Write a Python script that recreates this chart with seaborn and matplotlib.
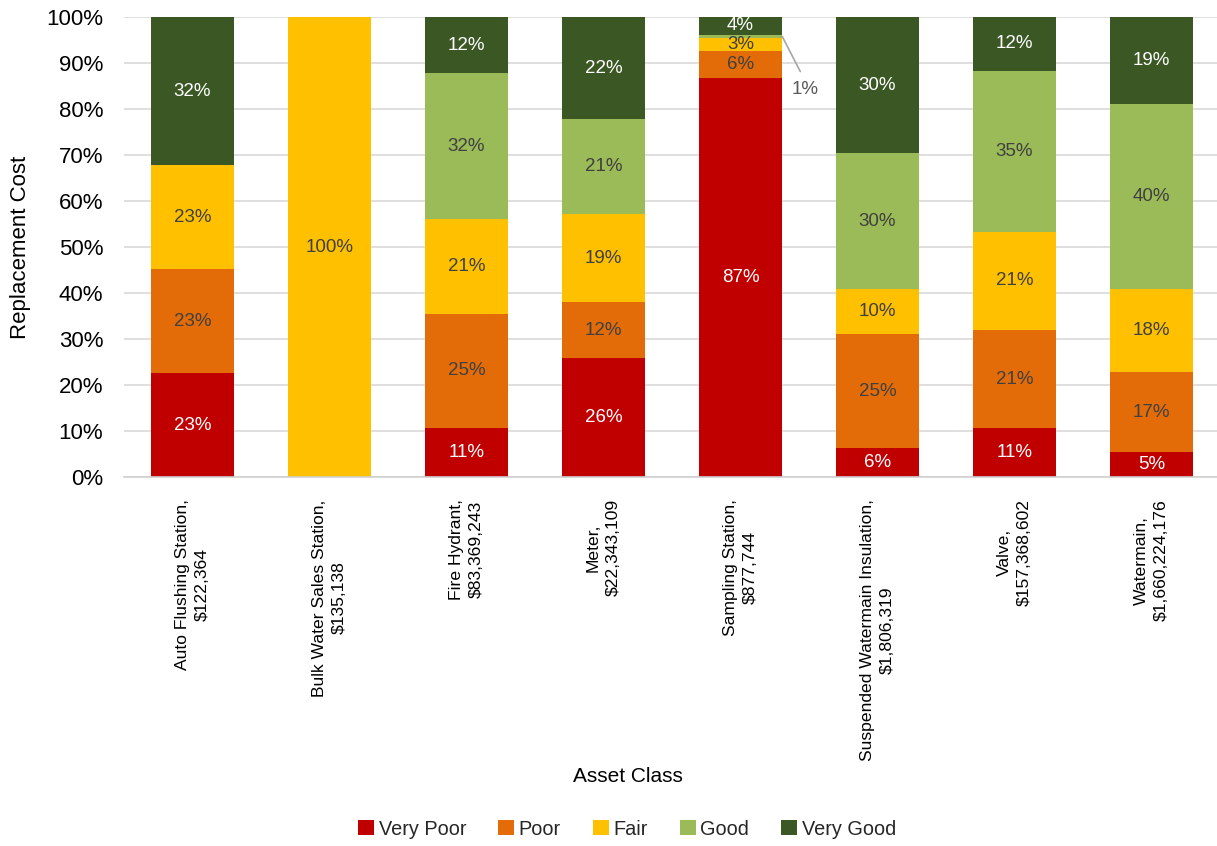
import matplotlib
matplotlib.use("Agg")
import matplotlib.pyplot as plt
from matplotlib.patches import Patch
from matplotlib.ticker import PercentFormatter
import numpy as np
import pandas as pd
import seaborn as sns

# Asset classes and their total replacement cost
assets = ["Auto Flushing Station", "Bulk Water Sales Station", "Fire Hydrant", "Meter",
          "Sampling Station", "Suspended Watermain Insulation", "Valve", "Watermain"]
replacement_cost = ["$122,364", "$135,138", "$83,369,243", "$22,343,109",
                    "$877,744", "$1,806,319", "$157,368,602", "$1,660,224,176"]
conditions = ["Very Poor", "Poor", "Fair", "Good", "Very Good"]

# Share of replacement cost (%) by condition rating
very_poor = [22.6, 0.0, 10.7, 25.9, 86.7, 6.3, 10.6, 5.4]
poor = [22.6, 0.0, 24.7, 12.1, 5.9, 24.7, 21.4, 17.4]
fair = [22.6, 100.0, 20.7, 19.2, 2.8, 9.8, 21.3, 18.1]
good = [0.0, 0.0, 31.7, 20.6, 0.7, 29.6, 35.0, 40.2]
very_good = [32.2, 0.0, 12.2, 22.2, 3.9, 29.6, 11.7, 18.9]

palette = {"Very Poor": "#C00000", "Poor": "#E36C09", "Fair": "#FFC000",
           "Good": "#9BBB59", "Very Good": "#3A5724"}
label_colors = {"Very Poor": "white", "Poor": "#404040", "Fair": "#404040",
                "Good": "#404040", "Very Good": "white"}

tick_labels = [f"{a},\n{c}" for a, c in zip(assets, replacement_cost)]

shares = np.array([very_poor, poor, fair, good, very_good])
tops = shares.cumsum(axis=0)
rows = []
for ci, cond in enumerate(conditions):
    for ai, lab in enumerate(tick_labels):
        rows.append({"asset": lab, "condition": cond, "share": shares[ci, ai],
                     "top": tops[ci, ai], "bottom": tops[ci, ai] - shares[ci, ai]})
df = pd.DataFrame(rows)

sns.set_theme(style="white")
plt.rcParams["font.family"] = ["Liberation Sans", "DejaVu Sans"]

W, H = 1217, 846
fig = plt.figure(figsize=(W / 100, H / 100), dpi=100)
# Plot area in pixels: left 124, right 1220 (runs slightly past the canvas), top 17, bottom 477
px_left, px_right, px_top, px_bottom = 124, 1220, 17, 477
ax = fig.add_axes([px_left / W, 1 - px_bottom / H,
                   (px_right - px_left) / W, (px_bottom - px_top) / H])

bar_width = 0.61
# Stacked bars: draw cumulative heights from the top layer down
for cond in reversed(conditions):
    sub = df[df["condition"] == cond]
    sns.barplot(data=sub, x="asset", y="top", order=tick_labels, color=palette[cond],
                saturation=1, width=bar_width, errorbar=None, linewidth=0,
                ax=ax, zorder=2)

# Segment labels
for _, r in df.iterrows():
    if r["share"] <= 0:
        continue
    xi = tick_labels.index(r["asset"])
    text = f"{r['share']:.0f}%"
    mid = (r["top"] + r["bottom"]) / 2
    if r["share"] < 2:
        ax.annotate(text, xy=(xi + bar_width / 2, mid), xytext=(16.5, -32),
                    textcoords="offset points", ha="center", va="top",
                    fontsize=13.5, color="#595959",
                    arrowprops=dict(arrowstyle="-", color="#A6A6A6", lw=1.2,
                                    relpos=(0.5, 1.0), shrinkA=5, shrinkB=0))
    else:
        ax.text(xi, mid, text, ha="center", va="center", fontsize=13.5,
                color=label_colors[r["condition"]], zorder=3)

ax.set_ylim(0, 100)
ax.set_xlim(-0.5, len(assets) - 0.5)
ax.set_yticks(np.arange(0, 101, 10))
ax.yaxis.set_major_formatter(PercentFormatter(100, decimals=0))
ax.yaxis.grid(True, color="#D9D9D9", lw=1.2, zorder=0)
ax.set_axisbelow(True)

for s in ["top", "right", "left"]:
    ax.spines[s].set_visible(False)
ax.spines["bottom"].set_color("#D0D0D0")
ax.spines["bottom"].set_linewidth(1.2)

ax.set_xticks(range(len(assets)))
ax.set_xticklabels(tick_labels, rotation=90, fontsize=12.6, multialignment="center",
                   linespacing=1.45, color="black")
ax.set_xticks(np.arange(-0.5, len(assets), 1), minor=True)
ax.tick_params(axis="x", which="major", length=0, pad=16)
ax.tick_params(axis="x", which="minor", length=7, color="#D0D0D0", width=1.2)
ax.tick_params(axis="y", length=0, pad=15, labelsize=16, labelcolor="black")

span_x = px_right - px_left
span_y = px_bottom - px_top
ax.set_xlabel("Asset Class", fontsize=15, color="black")
ax.xaxis.set_label_coords((628 - px_left) / span_x, (px_bottom - 767) / span_y)
ax.set_ylabel("Replacement Cost", fontsize=16, color="black")
ax.yaxis.set_label_coords((31 - px_left) / span_x, 0.5)

handles = [Patch(facecolor=palette[c], edgecolor="none", label=c) for c in conditions]
fig.legend(handles=handles, loc="center", bbox_to_anchor=(627 / W, 1 - 829 / H),
           ncol=5, frameon=False, fontsize=14.3, handlelength=0.8, handleheight=0.8,
           handletextpad=0.25, columnspacing=1.6)

fig.savefig("out.png", dpi=100)
